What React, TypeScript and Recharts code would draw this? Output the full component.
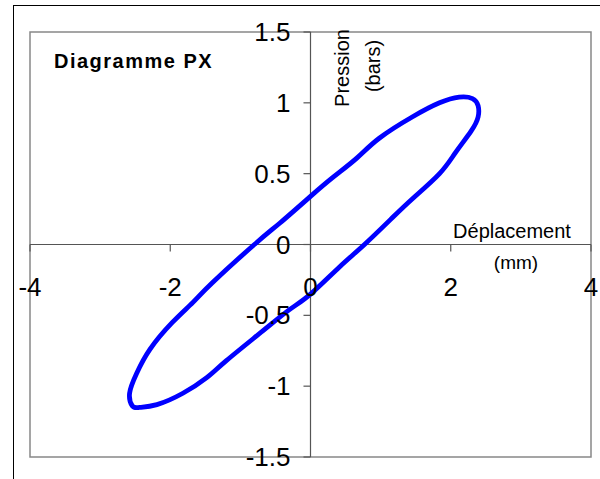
import React from "react";
import {
  LineChart,
  Line,
  XAxis,
  YAxis,
  ReferenceLine,
  ReferenceArea,
  ReferenceDot,
} from "recharts";

// Déplacement (mm) et pression (bars), cycle complet
const dispX = [
  0, 0.31, 0.66, 0.98, 1.45, 1.84, 2.12, 2.31, 2.39, 2.39, 2.29, 2.07, 1.84, 1.47,
  1.17, 0.77, 0.41, 0, -0.3, -0.68, -1.2, -1.48, -1.82, -2.19, -2.44, -2.54, -2.58,
  -2.48, -2.29, -1.97, -1.68, -1.4, -0.8, -0.44, 0,
];
const pression = [
  0.34, 0.47, 0.61, 0.75, 0.9, 1.0, 1.04, 1.03, 0.98, 0.9, 0.8, 0.65, 0.5, 0.33,
  0.19, 0, -0.16, -0.35, -0.46, -0.61, -0.82, -0.94, -1.05, -1.13, -1.15, -1.14, -1.05,
  -0.91, -0.74, -0.55, -0.41, -0.27, 0, 0.15, 0.34,
];

const xTicks = [-4, -2, 0, 2, 4];
const yTicks = [-1.5, -1, -0.5, 0, 0.5, 1, 1.5];

const data = dispX.map((x, i) => ({ x, y: pression[i] }));

const FONT = "'Liberation Sans', Arial, sans-serif";
const AXIS = "#555";

const tickText = (value: number, dx: number, dy: number, anchor: string) => (props: any) => {
  const vb = props.viewBox || {};
  return (
    <text
      x={vb.x + dx}
      y={vb.y + dy}
      textAnchor={anchor}
      dominantBaseline="central"
      fontFamily={FONT}
      fontSize={26}
      fill="#000"
    >
      {value}
    </text>
  );
};

export default function App() {
  return (
    <div style={{ position: "absolute", left: 0, top: 0, width: 600, height: 479, overflow: "hidden", background: "#fff" }}>
      <div
        style={{
          position: "absolute",
          left: 13,
          top: 5,
          width: 620,
          height: 520,
          border: "1px solid #000",
        }}
      />
      <div style={{ position: "absolute", left: 0, top: 0 }}>
        <LineChart width={600} height={479} data={data} margin={{ top: 32, right: 9, bottom: 22, left: 30 }}>
          <XAxis type="number" dataKey="x" domain={[-4, 4]} ticks={xTicks} hide />
          <YAxis type="number" domain={[-1.5, 1.5]} ticks={yTicks} hide />
          <ReferenceArea x1={-4} x2={4} y1={-1.5} y2={1.5} fill="none" stroke="#888" strokeWidth={1.5} />
          <ReferenceLine y={0} stroke={AXIS} strokeWidth={1.2} />
          <ReferenceLine x={0} stroke={AXIS} strokeWidth={1.2} />
          {xTicks.map((t) => (
            <ReferenceLine
              key={`xt${t}`}
              segment={[{ x: t, y: 0 }, { x: t, y: -0.05 }]}
              stroke={AXIS}
              strokeWidth={1.2}
            />
          ))}
          {yTicks.map((t) => (
            <ReferenceLine
              key={`yt${t}`}
              segment={[{ x: -0.1, y: t }, { x: 0, y: t }]}
              stroke={AXIS}
              strokeWidth={1.2}
            />
          ))}
          {xTicks.map((t) => (
            <ReferenceDot key={`xl${t}`} x={t} y={0} r={0} fill="none" stroke="none" label={tickText(t, 0, 42, "middle")} />
          ))}
          {yTicks.map((t) => (
            <ReferenceDot key={`yl${t}`} x={0} y={t} r={0} fill="none" stroke="none" label={tickText(t, -20, 0, "end")} />
          ))}
          <Line
            type="natural"
            dataKey="y"
            stroke="#0000ff"
            strokeWidth={4.8}
            strokeLinejoin="round"
            dot={false}
            isAnimationActive={false}
          />
        </LineChart>
      </div>
      <svg width={600} height={479} style={{ position: "absolute", left: 0, top: 0, pointerEvents: "none" }}>
        <text x={54} y={61} dominantBaseline="central" fontFamily={FONT} fontSize={20} fontWeight="bold" letterSpacing={1.5}>
          Diagramme PX
        </text>
        <text
          transform="translate(342,68) rotate(-90)"
          textAnchor="middle"
          dominantBaseline="central"
          fontFamily={FONT}
          fontSize={20}
        >
          Pression
        </text>
        <text
          transform="translate(373,66) rotate(-90)"
          textAnchor="middle"
          dominantBaseline="central"
          fontFamily={FONT}
          fontSize={20}
        >
          (bars)
        </text>
        <text x={512} y={231} textAnchor="middle" dominantBaseline="central" fontFamily={FONT} fontSize={20}>
          Déplacement
        </text>
        <text x={516} y={262} textAnchor="middle" dominantBaseline="central" fontFamily={FONT} fontSize={19}>
          (mm)
        </text>
      </svg>
    </div>
  );
}
